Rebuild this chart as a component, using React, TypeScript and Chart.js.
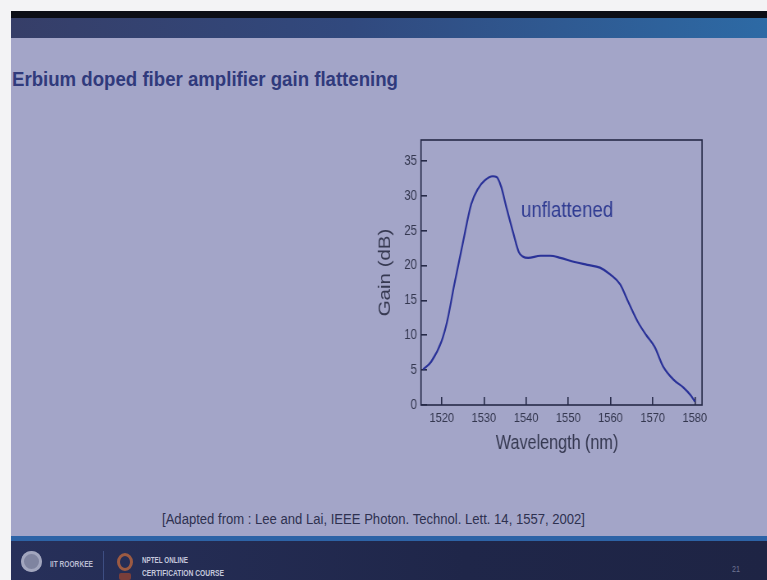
import React, { useEffect, useLayoutEffect, useRef } from "react";
import { Chart, registerables } from "chart.js";

Chart.register(...registerables);

// ---- data ----
const wavelengthNm = [
  1515.6, 1517.5, 1520.0, 1521.3, 1523.0, 1525.0, 1527.0, 1528.6, 1530.2,
  1532.1, 1533.0, 1534.1, 1535.3, 1536.9, 1538.3, 1539.2, 1540.5, 1543.4, 1545.7,
  1548.1, 1551.5, 1554.5, 1557.5, 1560.0, 1562.3, 1564.2, 1566.5, 1568.5, 1570.5,
  1572.5, 1575.0, 1577.3, 1579.0, 1580.0,
];
const gainDb = [
  5.1, 6.2, 9.2, 12.0, 17.3, 23.2, 28.8, 31.0, 32.2,
  32.8, 32.7, 31.3, 28.4, 24.8, 21.9, 21.3, 21.1, 21.4, 21.4,
  21.1, 20.5, 20.1, 19.7, 18.7, 17.3, 14.8, 11.9, 10.0, 8.3,
  5.5, 3.6, 2.5, 1.4, 0.5,
];
const xTickValues = [1520, 1530, 1540, 1550, 1560, 1570, 1580];
const yTickValues = [0, 5, 10, 15, 20, 25, 30, 35];
const xRange = [1515.1, 1581.7];
const yRange = [0, 38];
const curveLabel = "unflattened";
const curveLabelAt = [1538.8, 27.0];
const xTitle = "Wavelength (nm)";
const yTitle = "Gain (dB)";
const slideTitle = "Erbium doped fiber amplifier gain flattening";
const footnote = "[Adapted from : Lee and Lai, IEEE Photon. Technol. Lett. 14, 1557, 2002]";

const REGULAR = '"Liberation Sans", Arial, sans-serif';

// the photographed slide is squeezed horizontally; the chart canvas is drawn wider and shown narrower
const CANVAS_W = 463;
const CANVAS_H = 340;
const SHOWN_W = 380;

type FitProps = {
  text: string;
  left: number;
  baseline: number;
  width: number;
  fontSize: number;
  color: string;
  weight?: number | string;
  family?: string;
};

function FitText({ text, left, baseline, width, fontSize, color, weight = 400, family = REGULAR }: FitProps) {
  const ref = useRef<HTMLSpanElement>(null);
  useLayoutEffect(() => {
    const el = ref.current;
    if (!el) return;
    el.style.transform = "none";
    const w = el.getBoundingClientRect().width;
    if (w > 0) el.style.transform = `scaleX(${width / w})`;
  }, [text, width, fontSize]);
  return (
    <span
      ref={ref}
      style={{
        position: "absolute",
        left,
        top: baseline - 0.8465 * fontSize,
        fontSize,
        lineHeight: 1,
        fontFamily: family,
        fontWeight: weight as any,
        color,
        whiteSpace: "nowrap",
        transformOrigin: "0 0",
      }}
    >
      {text}
    </span>
  );
}

function noEdgePadding(s: any) {
  s.paddingTop = 0;
  s.paddingBottom = 0;
  s.paddingLeft = 0;
  s.paddingRight = 0;
}

function GainChart() {
  const canvasRef = useRef<HTMLCanvasElement>(null);

  useEffect(() => {
    const canvas = canvasRef.current;
    if (!canvas) return;

    const frameAndLabel = {
      id: "frameAndLabel",
      afterDraw(chart: any) {
        const { ctx, chartArea, scales } = chart;
        ctx.save();
        ctx.strokeStyle = "#262A48";
        ctx.lineWidth = 1.6;
        ctx.strokeRect(chartArea.left, chartArea.top, chartArea.right - chartArea.left, chartArea.bottom - chartArea.top);
        ctx.fillStyle = "#303C92";
        ctx.font = `22.7px ${REGULAR}`;
        ctx.textAlign = "left";
        ctx.textBaseline = "alphabetic";
        ctx.fillText(
          curveLabel,
          scales.x.getPixelForValue(curveLabelAt[0]),
          scales.y.getPixelForValue(curveLabelAt[1])
        );
        ctx.restore();
      },
    };

    const chart = new Chart(canvas, {
      type: "line",
      data: {
        datasets: [
          {
            label: curveLabel,
            data: wavelengthNm.map((x, i) => ({ x, y: gainDb[i] })),
            borderColor: "#2A3298",
            borderWidth: 2.2,
            pointRadius: 0,
            cubicInterpolationMode: "monotone",
            fill: false,
          },
        ],
      },
      options: {
        animation: false,
        responsive: false,
        maintainAspectRatio: false,
        devicePixelRatio: 1,
        layout: { padding: { top: 15, right: 21.9, left: 0, bottom: 0 } },
        plugins: { legend: { display: false }, tooltip: { enabled: false } },
        scales: {
          x: {
            type: "linear",
            min: xRange[0],
            max: xRange[1],
            afterBuildTicks: (s: any) => {
              s.ticks = xTickValues.map((v) => ({ value: v }));
            },
            afterFit: (s: any) => {
              s.height = 60;
              noEdgePadding(s);
            },
            border: { display: false },
            grid: {
              drawOnChartArea: false,
              drawTicks: true,
              tickLength: -8,
              color: "#262A48",
              lineWidth: 1.6,
            },
            ticks: {
              autoSkip: false,
              maxRotation: 0,
              padding: 13.4,
              color: "#34374F",
              font: { family: REGULAR, size: 13.5 },
              callback: (v: any) => String(v),
            },
            title: {
              display: true,
              text: xTitle + "\u00A0\u00A0",
              color: "#363951",
              font: { family: REGULAR, size: 19.7 },
              padding: { top: 0, bottom: 10 },
            },
          },
          y: {
            type: "linear",
            min: yRange[0],
            max: yRange[1],
            afterBuildTicks: (s: any) => {
              s.ticks = yTickValues.map((v) => ({ value: v }));
            },
            afterFit: (s: any) => {
              s.width = 98.7;
              noEdgePadding(s);
            },
            border: { display: false },
            grid: {
              drawOnChartArea: false,
              drawTicks: true,
              tickLength: -7.3,
              color: "#262A48",
              lineWidth: 1.6,
            },
            ticks: {
              autoSkip: false,
              padding: 12.2,
              color: "#34374F",
              font: { family: REGULAR, size: 14 },
              callback: (v: any) => String(v),
            },
            title: {
              display: true,
              text: yTitle,
              color: "#363951",
              font: { family: REGULAR, size: 20.5 },
              padding: { top: 43.1, bottom: 0 },
            },
          },
        },
      },
      plugins: [frameAndLabel],
    } as any);

    return () => chart.destroy();
  }, []);

  return (
    <canvas
      ref={canvasRef}
      width={CANVAS_W}
      height={CANVAS_H}
      style={{ position: "absolute", left: 340, top: 125, width: SHOWN_W, height: CANVAS_H }}
    />
  );
}

export default function App() {
  return (
    <div
      style={{
        position: "absolute",
        left: 0,
        top: 0,
        width: 767,
        height: 580,
        overflow: "hidden",
        background: "#F3F3F5",
      }}
    >
      {/* slide body */}
      <div style={{ position: "absolute", left: 11, top: 11, width: 756, height: 569, background: "#A3A5C8" }} />
      {/* top black strip and band */}
      <div style={{ position: "absolute", left: 11, top: 11, width: 756, height: 7, background: "#0C0E16" }} />
      <div
        style={{
          position: "absolute",
          left: 11,
          top: 18,
          width: 756,
          height: 20,
          background: "linear-gradient(to right, #363E68 0%, #31497E 45%, #2D6AA5 100%)",
        }}
      />
      {/* footer */}
      <div style={{ position: "absolute", left: 11, top: 536, width: 756, height: 5, background: "#2D63A6" }} />
      <div
        style={{
          position: "absolute",
          left: 11,
          top: 541,
          width: 756,
          height: 39,
          background: "linear-gradient(to right, #27305A 0%, #1F2649 60%, #1E2444 100%)",
        }}
      />
      {/* footer logos */}
      <div
        style={{
          position: "absolute",
          left: 21,
          top: 551,
          width: 21,
          height: 21,
          borderRadius: "50%",
          background: "#7F84A0",
          boxShadow: "inset 0 0 0 3px #A2A6BE",
        }}
      />
      <FitText text="IIT ROORKEE" left={50} baseline={568} width={43} fontSize={9} weight={700} color="#B9BDD2" />
      <div style={{ position: "absolute", left: 103, top: 551, width: 1, height: 29, background: "#3E4E82" }} />
      <div
        style={{
          position: "absolute",
          left: 117,
          top: 553,
          width: 16,
          height: 18,
          borderRadius: "50%",
          boxSizing: "border-box",
          border: "3px solid #9C5A42",
        }}
      />
      <div style={{ position: "absolute", left: 119, top: 573, width: 12, height: 7, background: "#7A3E3A", borderRadius: 2 }} />
      <FitText text="NPTEL ONLINE" left={142} baseline={564} width={46} fontSize={9} weight={700} color="#C4C8DC" />
      <FitText text="CERTIFICATION COURSE" left={142} baseline={576.5} width={82} fontSize={9} weight={700} color="#C4C8DC" />
      <FitText text="21" left={732} baseline={573} width={8} fontSize={9} color="#6E7494" />

      {/* slide title */}
      <FitText text={slideTitle} left={12} baseline={86} width={386} fontSize={20} weight={700} color="#303A7C" />

      {/* chart */}
      <GainChart />

      {/* footnote */}
      <FitText text={footnote} left={162} baseline={524.3} width={423} fontSize={14} color="#2E3150" />
    </div>
  );
}
